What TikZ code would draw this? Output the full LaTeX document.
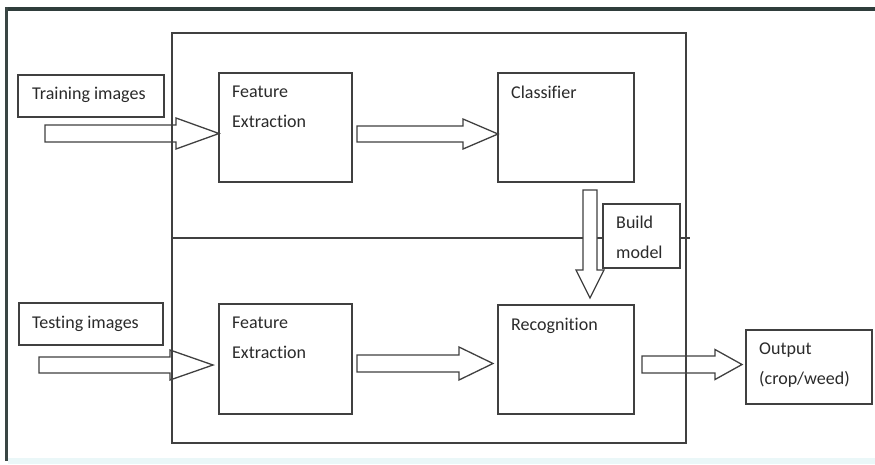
\documentclass[tikz,border=0pt]{standalone}
\usepackage{fontspec}
\setmainfont{Carlito}[Ligatures=NoCommon]
\usetikzlibrary{calc}
\definecolor{linegray}{HTML}{404040}
\definecolor{textgray}{HTML}{2A2A2A}
\definecolor{bandtop}{HTML}{2F3D3B}
\definecolor{bandside}{HTML}{3A4644}
\definecolor{bandlow}{HTML}{EAF7F8}
\tikzset{
  stage/.style={draw=linegray, line width=1.3pt, fill=white, rectangle,
    inner sep=0pt, outer sep=0pt, anchor=north west},
  caption/.style={font=\fontsize{18}{30}\selectfont, text=textgray,
    align=left, inner sep=0pt, anchor=north west},
  barrow/.style={draw=linegray, line width=1.3pt, fill=white, line join=miter},
}
% block arrow: from, to, shaft half width, head half width, head length
\newcommand\blockarrow[5]{%
  \path ($(#2)!#5!(#1)$) coordinate (bah);
  \draw[barrow] ($(#1)!#3!90:(#2)$) -- ($(bah)!#3!90:(#2)$)
    -- ($(bah)!#4!90:(#2)$) -- (#2) -- ($(bah)!#4!-90:(#2)$)
    -- ($(bah)!#3!-90:(#2)$) -- ($(#1)!#3!-90:(#2)$) -- cycle;
}
\begin{document}
\begin{tikzpicture}[x=1pt, y=-1pt]
\useasboundingbox (0,0) rectangle (875,464);
\fill[white] (0,0) rectangle (875,464);
% window edges
\fill[bandlow] (8,458) rectangle (875,464);
\fill[bandtop] (5,7) rectangle (875,10.5);
\fill[bandside] (5,7) rectangle (7.5,461);

% stage boxes
\node[stage, minimum width=146pt, minimum height=42pt] (train) at (18,75) {};
\node[stage, minimum width=133pt, minimum height=109pt] (fe1) at (219,73) {};
\node[stage, minimum width=136pt, minimum height=109pt] (cls) at (498,73) {};
\node[stage, minimum width=144pt, minimum height=42pt] (test) at (19,303) {};
\node[stage, minimum width=133pt, minimum height=110pt] (fe2) at (219,304) {};
\node[stage, minimum width=136pt, minimum height=109pt] (rec) at (498,305) {};
\node[stage, minimum width=126pt, minimum height=74pt] (out) at (746,330) {};

% arrow ends
\coordinate (a1s) at (45,133.5);
\coordinate (a1e) at (fe1.west |- a1s);
\coordinate (a2s) at ($(fe1.east)+(5,6.5)$);
\coordinate (a2e) at (cls.west |- a2s);
\coordinate (a3s) at (39,365);
\coordinate (a3e) at ([xshift=-6pt]fe2.west |- a3s);
\coordinate (a4s) at ($(fe2.east)+(5,4.5)$);
\coordinate (a4e) at ([xshift=-5pt]rec.west |- a4s);
\coordinate (a5s) at ($(rec.east)+(8,5)$);
\coordinate (a5e) at ([xshift=-4pt]out.west |- a5s);

\blockarrow{a1s}{a1e}{8.5pt}{15.5pt}{43pt}
\blockarrow{a3s}{a3e}{8pt}{15pt}{43pt}
\blockarrow{a5s}{a5e}{8.5pt}{15pt}{27pt}

% enclosing frame and training/testing divider
\node[stage, fill=none, minimum width=514pt, minimum height=410pt] (frame) at (172,33) {};
\coordinate (divL) at (frame.west |- 0,238);
\draw[draw=linegray, line width=1.3pt] (divL) -- ([xshift=4pt]divL -| frame.east);

\blockarrow{a2s}{a2e}{8pt}{15pt}{35pt}
\blockarrow{a4s}{a4e}{8.5pt}{16.5pt}{34pt}

\node[stage, minimum width=77pt, minimum height=64pt] (build) at (603,204) {};
\coordinate (a6s) at ([xshift=-44pt,yshift=-8pt]cls.south east);
\coordinate (a6e) at (a6s |- 0,298);
\blockarrow{a6s}{a6e}{7pt}{14pt}{28pt}

% captions
\node[caption] at ($(train.north west)+(14,12)$) {Training images};
\node[caption] at ($(test.north west)+(13,13)$) {Testing images};
\node[caption] at ($(fe1.north west)+(13,13)$) {Feature\\Extraction};
\node[caption] at ($(fe2.north west)+(13,13)$) {Feature\\Extraction};
\node[caption] at ($(cls.north west)+(13,13)$) {Classifier};
\node[caption] at ($(rec.north west)+(13,13)$) {Recognition};
\node[caption] at ($(build.north west)+(13,12)$) {Build\\model};
\node[caption] at ($(out.north west)+(13,13)$) {Output\\(crop/weed)};
\end{tikzpicture}
\end{document}
